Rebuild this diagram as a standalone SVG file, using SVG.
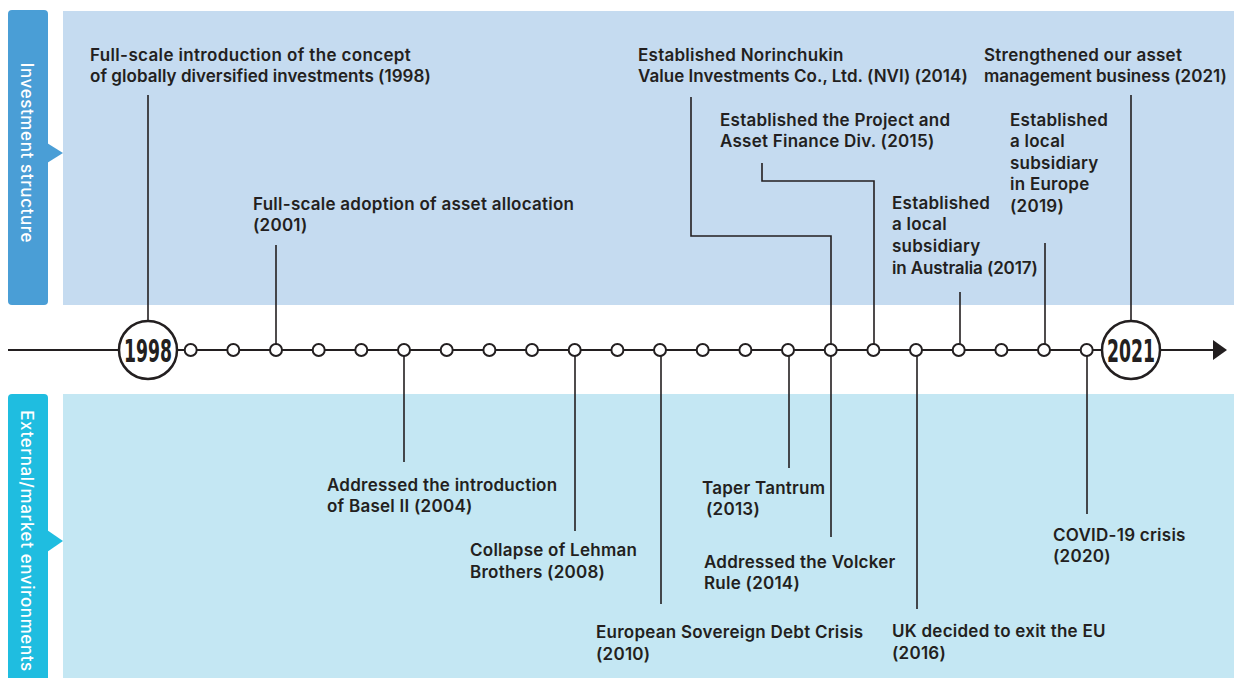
<svg xmlns="http://www.w3.org/2000/svg" width="1234" height="678" viewBox="0 0 1234 678">
<style>
.t{font-family:Inter,"Noto Sans",sans-serif;font-weight:600;font-size:17px;letter-spacing:0.25px;fill:#231f20}
.tab{font-family:Inter,"Noto Sans",sans-serif;font-weight:500;font-size:17px;letter-spacing:0.6px;fill:#fff}
.yr{font-family:"DejaVu Sans Condensed","DejaVu Sans",sans-serif;font-weight:bold;font-size:32px;fill:#231f20}
.c{stroke:#231f20;stroke-width:1.6;fill:none}
.dot{fill:#fff;stroke:#231f20;stroke-width:2}
</style>
<g id="panel-top">
<rect x="63" y="11" width="1171" height="294" fill="#c5dbf0"/>
<rect x="8" y="10" width="40" height="295" rx="4" fill="#4a9ed6"/>
<polygon points="47,143 63,153 47,163" fill="#4a9ed6"/>
<text class="tab" transform="translate(21,153) rotate(90)" text-anchor="middle">Investment structure</text>
</g>
<g id="panel-bottom">
<rect x="63" y="394" width="1171" height="284" fill="#c4e7f3"/>
<rect x="8" y="394" width="40" height="290" rx="4" fill="#1fbde0"/>
<polygon points="47,530 63,541 47,552" fill="#1fbde0"/>
<text class="tab" transform="translate(21,541) rotate(90)" text-anchor="middle">External/market environments</text>
</g>
<g id="connectors">
<line x1="8" y1="350" x2="1215" y2="350" stroke="#231f20" stroke-width="2"/>
<polygon points="1213,340 1227,350 1213,360" fill="#231f20"/>
<path class="c" d="M148,95V321"/>
<path class="c" d="M276,245V344"/>
<path class="c" d="M691,97V236H831V537"/>
<path class="c" d="M762,163V181H874V344"/>
<path class="c" d="M960,292V344"/>
<path class="c" d="M1045,243V344"/>
<path class="c" d="M1131,95V321"/>
<path class="c" d="M404,356V462"/>
<path class="c" d="M575,356V531"/>
<path class="c" d="M661,356V604"/>
<path class="c" d="M789,356V468"/>
<path class="c" d="M917,356V609"/>
<path class="c" d="M1087,356V514"/>
</g>
<g id="timeline">
<circle class="dot" cx="190.7" cy="350" r="6"/>
<circle class="dot" cx="233.3" cy="350" r="6"/>
<circle class="dot" cx="276" cy="350" r="6"/>
<circle class="dot" cx="318.7" cy="350" r="6"/>
<circle class="dot" cx="361.3" cy="350" r="6"/>
<circle class="dot" cx="404" cy="350" r="6"/>
<circle class="dot" cx="446.7" cy="350" r="6"/>
<circle class="dot" cx="489.4" cy="350" r="6"/>
<circle class="dot" cx="532" cy="350" r="6"/>
<circle class="dot" cx="574.7" cy="350" r="6"/>
<circle class="dot" cx="617.4" cy="350" r="6"/>
<circle class="dot" cx="660" cy="350" r="6"/>
<circle class="dot" cx="702.7" cy="350" r="6"/>
<circle class="dot" cx="745.4" cy="350" r="6"/>
<circle class="dot" cx="788" cy="350" r="6"/>
<circle class="dot" cx="830.7" cy="350" r="6"/>
<circle class="dot" cx="873.4" cy="350" r="6"/>
<circle class="dot" cx="916" cy="350" r="6"/>
<circle class="dot" cx="958.7" cy="350" r="6"/>
<circle class="dot" cx="1001.4" cy="350" r="6"/>
<circle class="dot" cx="1044" cy="350" r="6"/>
<circle class="dot" cx="1086.7" cy="350" r="6"/>
</g>
<g id="year-1998">
<circle cx="148" cy="350" r="29" fill="#fff" stroke="#231f20" stroke-width="2.5"/>
<text class="yr" x="148" y="362" text-anchor="middle" textLength="48" lengthAdjust="spacingAndGlyphs">1998</text>
</g>
<g id="year-2021">
<circle cx="1131" cy="350" r="29" fill="#fff" stroke="#231f20" stroke-width="2.5"/>
<text class="yr" x="1131" y="362" text-anchor="middle" textLength="48" lengthAdjust="spacingAndGlyphs">2021</text>
</g>
<g id="e1998"><text class="t" x="90" y="61" textLength="321">Full-scale introduction of the concept</text><text class="t" x="90" y="82" textLength="341">of globally diversified investments (1998)</text></g>
<g id="e2001"><text class="t" x="253" y="210">Full-scale adoption of asset allocation</text><text class="t" x="253" y="231">(2001)</text></g>
<g id="e2014nvi"><text class="t" x="638" y="61">Established Norinchukin</text><text class="t" x="638" y="82" textLength="330">Value Investments Co., Ltd. (NVI) (2014)</text></g>
<g id="e2021"><text class="t" x="984" y="61">Strengthened our asset</text><text class="t" x="984" y="82" textLength="243">management business (2021)</text></g>
<g id="e2015"><text class="t" x="720" y="126">Established the Project and</text><text class="t" x="720" y="147">Asset Finance Div. (2015)</text></g>
<g id="e2019"><text class="t" x="1010" y="126">Established</text><text class="t" x="1010" y="147">a local</text><text class="t" x="1010" y="169">subsidiary</text><text class="t" x="1010" y="190">in Europe</text><text class="t" x="1010" y="212">(2019)</text></g>
<g id="e2017"><text class="t" x="892" y="209">Established</text><text class="t" x="892" y="230">a local</text><text class="t" x="892" y="252">subsidiary</text><text class="t" x="892" y="274" textLength="146">in Australia (2017)</text></g>
<g id="e2004"><text class="t" x="327" y="491">Addressed the introduction</text><text class="t" x="327" y="512">of Basel II (2004)</text></g>
<g id="e2008"><text class="t" x="470" y="556">Collapse of Lehman</text><text class="t" x="470" y="578">Brothers (2008)</text></g>
<g id="e2010"><text class="t" x="596" y="638">European Sovereign Debt Crisis</text><text class="t" x="596" y="660">(2010)</text></g>
<g id="e2013"><text class="t" x="702" y="494">Taper Tantrum</text><text class="t" x="706" y="515">(2013)</text></g>
<g id="e2014v"><text class="t" x="704" y="568">Addressed the Volcker</text><text class="t" x="704" y="589">Rule (2014)</text></g>
<g id="e2016"><text class="t" x="892" y="637">UK decided to exit the EU</text><text class="t" x="892" y="659">(2016)</text></g>
<g id="e2020"><text class="t" x="1053" y="541">COVID-19 crisis</text><text class="t" x="1053" y="562">(2020)</text></g>
</svg>
